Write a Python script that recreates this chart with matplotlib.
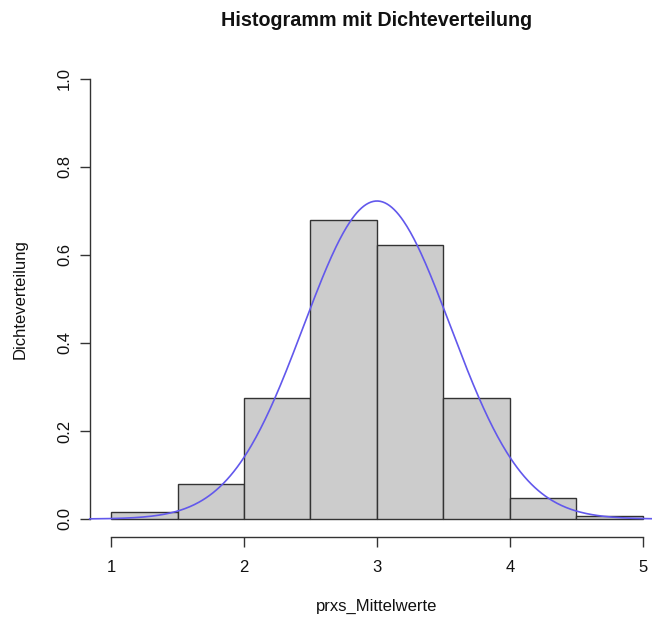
import numpy as np
import matplotlib
matplotlib.use("Agg")
import matplotlib.pyplot as plt

plt.rcParams['font.family'] = ['Liberation Sans', 'DejaVu Sans']

# Histogram data (density per bin)
bin_edges = [1.0, 1.5, 2.0, 2.5, 3.0, 3.5, 4.0, 4.5, 5.0]
densities = [0.016, 0.08, 0.274, 0.68, 0.622, 0.274, 0.048, 0.006]
# Normal density curve parameters
curve_mean = 3.0
curve_sd = 0.552

x_ticks = [1, 2, 3, 4, 5]
y_ticks = [0.0, 0.2, 0.4, 0.6, 0.8, 1.0]
y_ticklabels = ["0.0", "0.2", "0.4", "0.6", "0.8", "1.0"]

W, H = 652, 617
fig = plt.figure(figsize=(W / 100, H / 100), dpi=100)
left_px, right_px = 90, 652
top_px, bottom_px = 61.4, 536.6
ax = fig.add_axes([left_px / W, 1 - bottom_px / H, (right_px - left_px) / W, (bottom_px - top_px) / H])

widths = np.diff(bin_edges)
ax.bar(bin_edges[:-1], densities, width=widths, align='edge',
       color='#cccccc', edgecolor='#333333', linewidth=1.0, zorder=2)

xs = np.linspace(0.84, 5.2, 500)
ys = np.exp(-0.5 * ((xs - curve_mean) / curve_sd) ** 2) / (curve_sd * np.sqrt(2 * np.pi))
ax.plot(xs, ys, color='#6258ec', linewidth=1.2, zorder=3, clip_on=False)

ax.set_xlim(0.842, 5.068)
ax.set_ylim(-0.04, 1.04)
for s in ['top', 'right']:
    ax.spines[s].set_visible(False)
ax.spines['left'].set_bounds(0, 1)
ax.spines['bottom'].set_bounds(1, 5)
for s in ['left', 'bottom']:
    ax.spines[s].set_color('#333333')
    ax.spines[s].set_linewidth(1.0)

ax.set_xticks(x_ticks)
ax.set_xticklabels([str(t) for t in x_ticks])
ax.set_yticks(y_ticks)
ax.set_yticklabels(y_ticklabels, rotation=90, va='center')
ax.tick_params(direction='out', length=7, width=1.0, color='#333333',
               labelsize=12, labelcolor='#111111')
ax.tick_params(axis='x', pad=10)
ax.tick_params(axis='y', pad=6)

fig.text(377 / W, 1 - 606 / H, 'prxs_Mittelwerte', ha='center', va='center',
         fontsize=12, color='#111111')
fig.text(20 / W, 1 - 299 / H, 'Dichteverteilung', ha='center', va='center',
         rotation=90, fontsize=12, color='#111111')
fig.text(377 / W, 1 - 20 / H, 'Histogramm mit Dichteverteilung', ha='center', va='center',
         fontsize=14.2, fontweight='bold', color='#111111')

fig.savefig('out.png', dpi=100)
